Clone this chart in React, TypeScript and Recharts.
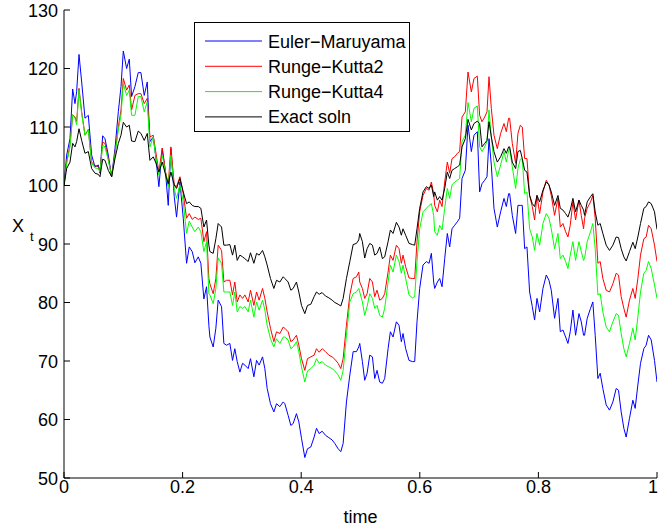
import React from 'react';
import { LineChart, Line, XAxis, YAxis, Legend, Label } from 'recharts';

const time = [
  0, 0.0045, 0.0101, 0.0146, 0.0185, 0.0213, 0.0253, 0.0298, 0.0354, 0.041, 0.0466, 0.0522, 0.0579, 0.0607, 0.0652, 0.0691, 0.0747, 0.0803, 0.086, 0.0916, 0.0961, 0.1, 0.1056, 0.1101, 0.114,
  0.1196, 0.1252, 0.1297, 0.1353, 0.1404, 0.1449, 0.1505, 0.1544, 0.16, 0.1657, 0.1713, 0.1758, 0.1803, 0.1859, 0.1898, 0.1955, 0.2011, 0.2067, 0.2112, 0.2162, 0.2207, 0.2264, 0.2308, 0.2359, 0.2404, 0.2443,
  0.246, 0.2516, 0.2561, 0.26, 0.2657, 0.2696, 0.2741, 0.2797, 0.2842, 0.2881, 0.2921, 0.2966, 0.3011, 0.305, 0.3106, 0.3145, 0.3202, 0.3247, 0.3291, 0.3348, 0.3387, 0.3426, 0.3482, 0.3539, 0.3584, 0.364, 0.3696,
  0.3724, 0.378, 0.3825, 0.3864, 0.392, 0.396, 0.4005, 0.4061, 0.4106, 0.4162, 0.4218, 0.4258, 0.4303, 0.4353, 0.441, 0.4466, 0.4522, 0.4567, 0.4623, 0.4668, 0.4707, 0.4763, 0.482, 0.4876, 0.4932, 0.4971,
  0.4987, 0.5032, 0.5071, 0.5111, 0.5156, 0.5201, 0.524, 0.5279, 0.5324, 0.5369, 0.5408, 0.5465, 0.5504, 0.5549, 0.5605, 0.565, 0.5689, 0.5717, 0.5762, 0.5818, 0.5875, 0.5914, 0.5953, 0.5998, 0.6054, 0.6111, 0.6156, 0.6195, 0.6234,
  0.6251, 0.6296, 0.6335, 0.6375, 0.642, 0.6464, 0.6504, 0.6543, 0.6588, 0.6633, 0.6672, 0.6712, 0.6768, 0.6813, 0.6869, 0.6914, 0.697, 0.7009, 0.7049, 0.7094, 0.7133, 0.7167, 0.7206, 0.7251, 0.7307, 0.7363, 0.742, 0.7459, 0.7498,
  0.7515, 0.756, 0.7616, 0.7655, 0.7695, 0.7728, 0.7768, 0.7807, 0.7852, 0.7897, 0.7936, 0.7976, 0.8021, 0.8077, 0.8133, 0.8178, 0.8217, 0.8273, 0.833, 0.8369, 0.8414, 0.8459, 0.8498, 0.8537, 0.8582, 0.8627, 0.8684, 0.8723, 0.8762,
  0.8778, 0.8823, 0.8879, 0.8918, 0.8958, 0.9003, 0.9042, 0.9087, 0.9143, 0.9199, 0.9256, 0.9312, 0.9351, 0.9396, 0.9441, 0.948, 0.9536, 0.9593, 0.9632, 0.9677, 0.9722, 0.9778, 0.9817, 0.9857, 0.9902, 0.9958, 1.0,
];

const eulerMaruyama = [
  100, 105.2, 108.0, 116.5, 114.0, 116.0, 122.4, 117.7, 111.5, 112.0, 105.2, 103.2, 103.5, 102.1, 108.5, 108.0, 105.2, 101.5, 106.3, 112.6, 116.9, 123.0, 120.0, 121.6, 115.2,
  116.9, 119.3, 119.3, 115.4, 117.7, 107.5, 108.3, 105.2, 99.8, 106.3, 102.1, 96.6, 106.3, 98.1, 94.6, 100.6, 94.4, 86.7, 89.5, 88.7, 86.8, 87.8, 86.7, 80.6, 82.7, 76.1,
  74.1, 72.4, 75.6, 80.4, 79.3, 73.0, 72.7, 73.0, 70.1, 72.1, 69.9, 68.1, 69.6, 69.3, 68.7, 70.4, 67.3, 70.1, 69.3, 70.7, 68.7, 65.3, 62.7, 61.3, 62.7, 62.2, 63.0,
  62.7, 60.7, 59.0, 59.3, 61.0, 59.6, 56.8, 53.5, 55.0, 55.3, 57.0, 58.5, 57.6, 58.0, 57.3, 56.9, 56.5, 55.9, 55.0, 54.5, 55.9, 63.0, 67.6, 71.6, 71.6, 72.4,
  73.0, 69.9, 66.7, 67.9, 71.0, 70.7, 67.0, 68.4, 66.4, 66.2, 67.0, 72.1, 75.0, 74.1, 76.7, 76.1, 73.3, 74.7, 72.1, 70.1, 69.9, 69.9, 76.7, 82.4, 86.4, 87.0, 86.7, 88.4, 83.5,
  82.4, 83.5, 84.1, 82.7, 87.5, 91.8, 89.5, 92.6, 93.2, 93.8, 94.4, 101.2, 102.6, 110.3, 105.8, 108.6, 109.2, 98.9, 100.3, 100.9, 101.5, 108.0, 103.5, 96.1, 92.9, 95.5, 97.8, 96.4, 98.6,
  98.6, 94.9, 91.8, 96.6, 96.6, 96.6, 89.2, 89.5, 81.8, 79.3, 77.0, 80.7, 78.4, 82.4, 84.7, 83.8, 82.1, 77.3, 80.7, 75.0, 75.3, 74.1, 73.0, 75.0, 78.7, 74.4, 78.1, 76.7, 74.4,
  74.4, 77.3, 79.0, 80.1, 74.4, 67.0, 67.9, 65.3, 62.5, 61.6, 63.0, 65.3, 65.0, 61.3, 58.5, 57.0, 60.2, 63.3, 61.9, 65.9, 69.6, 72.1, 72.7, 74.4, 73.6, 70.1, 66.4,
];

const rungeKutta2 = [
  100, 104.0, 106.9, 112.1, 111.7, 110.9, 116.6, 112.6, 108.6, 109.6, 104.0, 103.4, 103.2, 102.3, 107.4, 107.2, 104.6, 101.5, 105.5, 110.0, 112.9, 118.3, 116.3, 117.2, 112.9,
  115.4, 115.7, 115.7, 114.0, 114.9, 108.3, 108.6, 106.0, 102.3, 106.4, 102.3, 100.1, 106.6, 100.1, 99.8, 101.5, 98.6, 94.4, 95.2, 94.2, 94.6, 94.2, 94.4, 90.4, 92.1, 84.1,
  83.2, 81.5, 84.1, 89.8, 88.9, 83.5, 83.8, 83.8, 81.3, 83.5, 80.1, 81.3, 80.7, 81.3, 80.1, 82.1, 79.5, 81.8, 80.4, 82.4, 80.7, 78.4, 75.6, 73.3, 75.0, 74.7, 75.8,
  75.6, 75.0, 73.3, 73.6, 74.4, 72.7, 70.4, 68.4, 70.4, 70.7, 71.0, 72.1, 71.5, 72.1, 71.6, 71.0, 70.7, 70.3, 69.6, 68.7, 70.4, 76.1, 81.3, 84.1, 84.4, 85.2,
  83.5, 82.4, 80.7, 81.5, 84.1, 83.5, 81.0, 82.1, 80.4, 80.7, 81.5, 85.2, 88.1, 87.2, 89.8, 89.2, 86.7, 88.1, 86.1, 84.2, 84.1, 84.1, 90.4, 95.5, 98.3, 99.5, 99.2, 100.6, 98.6,
  96.6, 95.5, 97.5, 96.4, 100.6, 104.0, 102.1, 104.6, 104.9, 105.5, 105.8, 111.7, 112.6, 119.4, 116.0, 118.3, 118.7, 112.0, 110.9, 111.7, 112.6, 118.6, 113.2, 108.6, 106.3, 108.9, 110.6, 109.2, 111.5,
  111.5, 107.2, 103.8, 108.9, 110.3, 110.0, 104.6, 104.6, 98.3, 96.4, 94.1, 98.3, 95.2, 98.9, 100.9, 100.1, 98.3, 94.9, 97.8, 92.9, 93.5, 92.1, 91.2, 93.2, 97.2, 94.1, 97.5, 94.9, 92.6,
  94.4, 96.1, 97.2, 98.3, 94.4, 86.7, 87.0, 84.1, 82.1, 81.8, 83.2, 85.0, 84.7, 81.0, 79.0, 77.5, 80.4, 82.4, 80.7, 84.1, 88.1, 90.9, 91.2, 93.2, 92.6, 89.8, 87.0,
];

const rungeKutta4 = [
  100, 103.8, 106.6, 112.1, 111.5, 110.4, 116.3, 112.3, 108.6, 109.5, 103.8, 103.0, 102.9, 102.3, 106.9, 106.6, 104.3, 101.5, 105.2, 109.5, 112.0, 117.4, 115.4, 116.3, 112.0,
  112.0, 115.2, 115.2, 112.6, 114.3, 106.6, 108.3, 105.2, 101.8, 105.2, 102.1, 99.8, 105.2, 99.5, 97.8, 100.1, 97.2, 91.8, 93.9, 92.9, 92.1, 92.9, 92.1, 88.7, 90.4, 81.5,
  81.3, 79.8, 82.4, 87.6, 86.7, 81.8, 81.8, 81.8, 79.5, 81.8, 78.4, 79.3, 79.0, 79.3, 78.4, 80.4, 77.5, 80.1, 78.7, 80.4, 78.7, 76.1, 73.8, 72.4, 73.8, 73.0, 74.1,
  74.1, 73.6, 72.1, 72.4, 73.3, 71.6, 69.0, 66.4, 68.3, 68.7, 69.3, 70.4, 69.6, 69.9, 69.3, 69.0, 68.7, 68.3, 67.6, 66.7, 68.4, 74.4, 80.1, 81.5, 81.8, 82.4,
  81.8, 80.1, 77.8, 79.3, 81.5, 80.7, 79.0, 79.5, 77.8, 77.5, 79.0, 83.5, 86.4, 85.2, 88.1, 87.0, 85.0, 86.4, 84.1, 81.3, 80.8, 81.0, 87.0, 92.6, 95.5, 96.1, 96.6, 96.9, 94.9,
  92.1, 91.5, 93.2, 92.4, 96.1, 99.5, 97.8, 100.1, 100.6, 100.9, 101.2, 107.5, 108.6, 114.2, 110.9, 113.2, 113.6, 106.6, 105.8, 106.6, 107.5, 112.9, 108.3, 104.0, 101.5, 103.5, 105.8, 104.0, 106.0,
  106.3, 103.2, 99.5, 102.9, 104.5, 104.6, 98.6, 98.9, 92.6, 91.2, 88.9, 91.8, 89.8, 93.5, 95.2, 94.4, 92.6, 89.2, 91.8, 87.5, 88.1, 87.0, 85.8, 88.1, 90.4, 87.2, 90.4, 88.7, 87.2,
  87.5, 90.4, 92.1, 93.5, 89.2, 81.3, 81.5, 78.4, 75.8, 75.0, 76.7, 78.1, 77.8, 74.7, 72.1, 70.7, 73.0, 75.6, 73.6, 77.5, 81.8, 85.0, 85.5, 87.0, 85.8, 83.0, 80.7,
];

const exactSoln = [
  100, 102.9, 104.0, 107.2, 106.6, 107.5, 109.7, 107.7, 105.5, 105.8, 102.9, 102.1, 101.9, 101.5, 104.5, 104.3, 102.6, 101.5, 104.6, 107.2, 108.6, 110.8, 110.0, 110.3, 107.6,
  107.5, 109.3, 108.9, 107.7, 108.9, 104.3, 104.9, 104.0, 102.3, 104.0, 101.8, 100.3, 102.3, 100.1, 99.5, 101.2, 98.9, 96.9, 97.2, 96.6, 96.4, 96.4, 96.1, 92.9, 94.1, 89.8,
  88.7, 88.4, 90.9, 93.5, 92.9, 89.8, 89.8, 89.9, 88.1, 89.8, 87.2, 88.1, 87.8, 87.5, 87.0, 88.5, 86.7, 88.4, 88.1, 88.9, 87.8, 86.4, 84.1, 82.4, 83.8, 83.5, 84.4,
  84.1, 83.5, 82.1, 82.4, 83.5, 81.8, 79.5, 78.1, 79.5, 79.7, 81.0, 81.8, 81.4, 81.7, 81.1, 80.8, 80.4, 80.0, 79.7, 79.4, 80.7, 84.1, 87.0, 89.9, 90.1, 90.7,
  91.8, 90.4, 87.6, 89.2, 90.1, 89.8, 88.1, 88.4, 89.5, 87.5, 87.8, 90.4, 92.4, 91.8, 93.7, 92.9, 91.5, 92.6, 91.5, 90.1, 89.9, 89.8, 92.6, 96.1, 98.9, 99.8, 99.5, 100.1, 98.1,
  98.9, 97.5, 98.1, 97.5, 99.5, 102.3, 101.2, 102.6, 102.9, 103.2, 103.5, 106.6, 108.0, 111.3, 109.5, 110.6, 111.0, 110.6, 106.6, 107.2, 107.7, 110.9, 108.3, 105.8, 104.0, 104.9, 106.3, 105.5, 106.6,
  106.6, 104.0, 102.9, 105.8, 106.0, 104.6, 102.6, 102.3, 98.3, 96.9, 96.4, 98.3, 97.2, 99.2, 100.6, 100.1, 98.9, 96.6, 98.3, 96.1, 95.8, 95.2, 94.6, 95.8, 97.8, 95.5, 97.5, 96.6, 95.8,
  94.9, 97.2, 98.1, 98.6, 95.5, 93.2, 93.5, 91.8, 89.8, 88.9, 89.8, 91.2, 91.1, 89.2, 87.8, 87.1, 88.7, 90.3, 89.2, 91.2, 93.5, 96.1, 96.4, 97.2, 96.9, 95.5, 92.5,
];

const seriesNames = ['Euler\u2212Maruyama', 'Runge\u2212Kutta2', 'Runge\u2212Kutta4', 'Exact soln'];
const seriesColors = ['#0000ff', '#ff0000', '#00ff00', '#000000'];
const xTicks = [0, 0.2, 0.4, 0.6, 0.8, 1];
const xTickLabels = ['0', '0.2', '0.4', '0.6', '0.8', '1'];
const yTicks = [50, 60, 70, 80, 90, 100, 110, 120, 130];
const xLabel = 'time';
const yLabelMain = 'X';
const yLabelSub = 't';

const data = time.map((t, i) => ({
  t,
  em: eulerMaruyama[i],
  rk2: rungeKutta2[i],
  rk4: rungeKutta4[i],
  exact: exactSoln[i],
}));
const seriesKeys = ['em', 'rk2', 'rk4', 'exact'];

const FONT = '"Liberation Sans", Arial, Helvetica, sans-serif';
const FS = 18;
const TL = 6;
const W = 659;
const H = 528;

const BottomTick = (p: any) => {
  const idx = xTicks.indexOf(p.payload.value);
  const tx = Math.min(p.x, W - 6);
  return (
    <g>
      <line x1={p.x} x2={p.x} y1={p.y} y2={p.y - TL} stroke="#000" strokeWidth={1} />
      <text x={tx} y={p.y + 15} textAnchor="middle" fontSize={FS} fontFamily={FONT} fill="#000">
        {idx >= 0 ? xTickLabels[idx] : String(p.payload.value)}
      </text>
    </g>
  );
};

const TopTick = (p: any) => (
  <line x1={p.x} x2={p.x} y1={p.y} y2={p.y + TL} stroke="#000" strokeWidth={1} />
);

const LeftTick = (p: any) => (
  <g>
    <line x1={p.x} x2={p.x + TL} y1={p.y} y2={p.y} stroke="#000" strokeWidth={1} />
    <text x={p.x - 6} y={p.y + 6.5} textAnchor="end" fontSize={FS} fontFamily={FONT} fill="#000">
      {p.payload.value}
    </text>
  </g>
);

const RightTick = (p: any) => (
  <line x1={p.x} x2={p.x - TL} y1={p.y} y2={p.y} stroke="#000" strokeWidth={1} />
);

const LegendBox = (props: any) => {
  const payload = (props.payload || []) as any[];
  const byName = (n: string) => payload.find((e) => e.value === n);
  return (
    <svg width={216} height={110} style={{ display: 'block' }}>
      <rect x={0.5} y={0.5} width={215} height={109} fill="#fff" stroke="#000" strokeWidth={1} />
      {seriesNames.map((n, i) => {
        const e = byName(n);
        const color = e ? e.color : seriesColors[i];
        const cy = 19 + i * 25.3;
        return (
          <g key={n}>
            <line x1={11} x2={68} y1={cy} y2={cy} stroke={color} strokeWidth={1} />
            <text x={74} y={cy + 6.5} fontSize={FS} fontFamily={FONT} fill="#000">{n}</text>
          </g>
        );
      })}
    </svg>
  );
};

export default function App() {
  return (
    <div style={{ position: 'absolute', left: 0, top: 0, width: W, height: H, background: '#fff' }}>
      <LineChart width={W} height={H} data={data} margin={{ top: 10, right: 2, bottom: 0, left: 0 }}>
        <XAxis
          xAxisId="main"
          dataKey="t"
          type="number"
          domain={[0, 1]}
          ticks={xTicks}
          interval={0}
          height={50}
          tickSize={0}
          tickMargin={0}
          tick={BottomTick}
          axisLine={{ stroke: '#000', strokeWidth: 1 }}
          allowDataOverflow
        >
          <Label
            content={(lp: any) => {
              const vb = lp.viewBox || { x: 64, y: 478, width: 593, height: 50 };
              return (
                <text x={vb.x + vb.width / 2} y={vb.y + 45} textAnchor="middle" fontSize={FS} fontFamily={FONT} fill="#000">
                  {xLabel}
                </text>
              );
            }}
          />
        </XAxis>
        <XAxis
          xAxisId="top"
          orientation="top"
          type="number"
          domain={[0, 1]}
          ticks={xTicks}
          interval={0}
          height={0}
          tickSize={0}
          tickMargin={0}
          tick={TopTick}
          axisLine={{ stroke: '#000', strokeWidth: 1 }}
          allowDataOverflow
        />
        <YAxis
          yAxisId="main"
          type="number"
          domain={[50, 130]}
          ticks={yTicks}
          interval={0}
          width={64}
          tickSize={0}
          tickMargin={0}
          tick={LeftTick}
          axisLine={{ stroke: '#000', strokeWidth: 1 }}
          allowDataOverflow
        >
          <Label
            content={(lp: any) => {
              const vb = lp.viewBox || { x: 0, y: 10, width: 64, height: 468 };
              const cy = vb.y + vb.height / 2;
              return (
                <g>
                  <text x={12} y={cy - 12} fontSize={FS} fontFamily={FONT} fill="#000">{yLabelMain}</text>
                  <text x={30} y={cy - 3} fontSize={13} fontFamily={FONT} fill="#000">{yLabelSub}</text>
                </g>
              );
            }}
          />
        </YAxis>
        <YAxis
          yAxisId="right"
          orientation="right"
          type="number"
          domain={[50, 130]}
          ticks={yTicks}
          interval={0}
          width={0}
          tickSize={0}
          tickMargin={0}
          tick={RightTick}
          axisLine={{ stroke: '#000', strokeWidth: 1 }}
          allowDataOverflow
        />
        {seriesKeys.map((k, i) => (
          <Line
            key={k}
            xAxisId="main"
            yAxisId="main"
            type="linear"
            dataKey={k}
            name={seriesNames[i]}
            stroke={seriesColors[i]}
            strokeWidth={1}
            dot={false}
            activeDot={false}
            isAnimationActive={false}
          />
        ))}
        <Legend
          layout="vertical"
          align="center"
          verticalAlign="middle"
          wrapperStyle={{ left: 194, top: 22, width: 216, height: 110 }}
          content={LegendBox}
        />
      </LineChart>
    </div>
  );
}
